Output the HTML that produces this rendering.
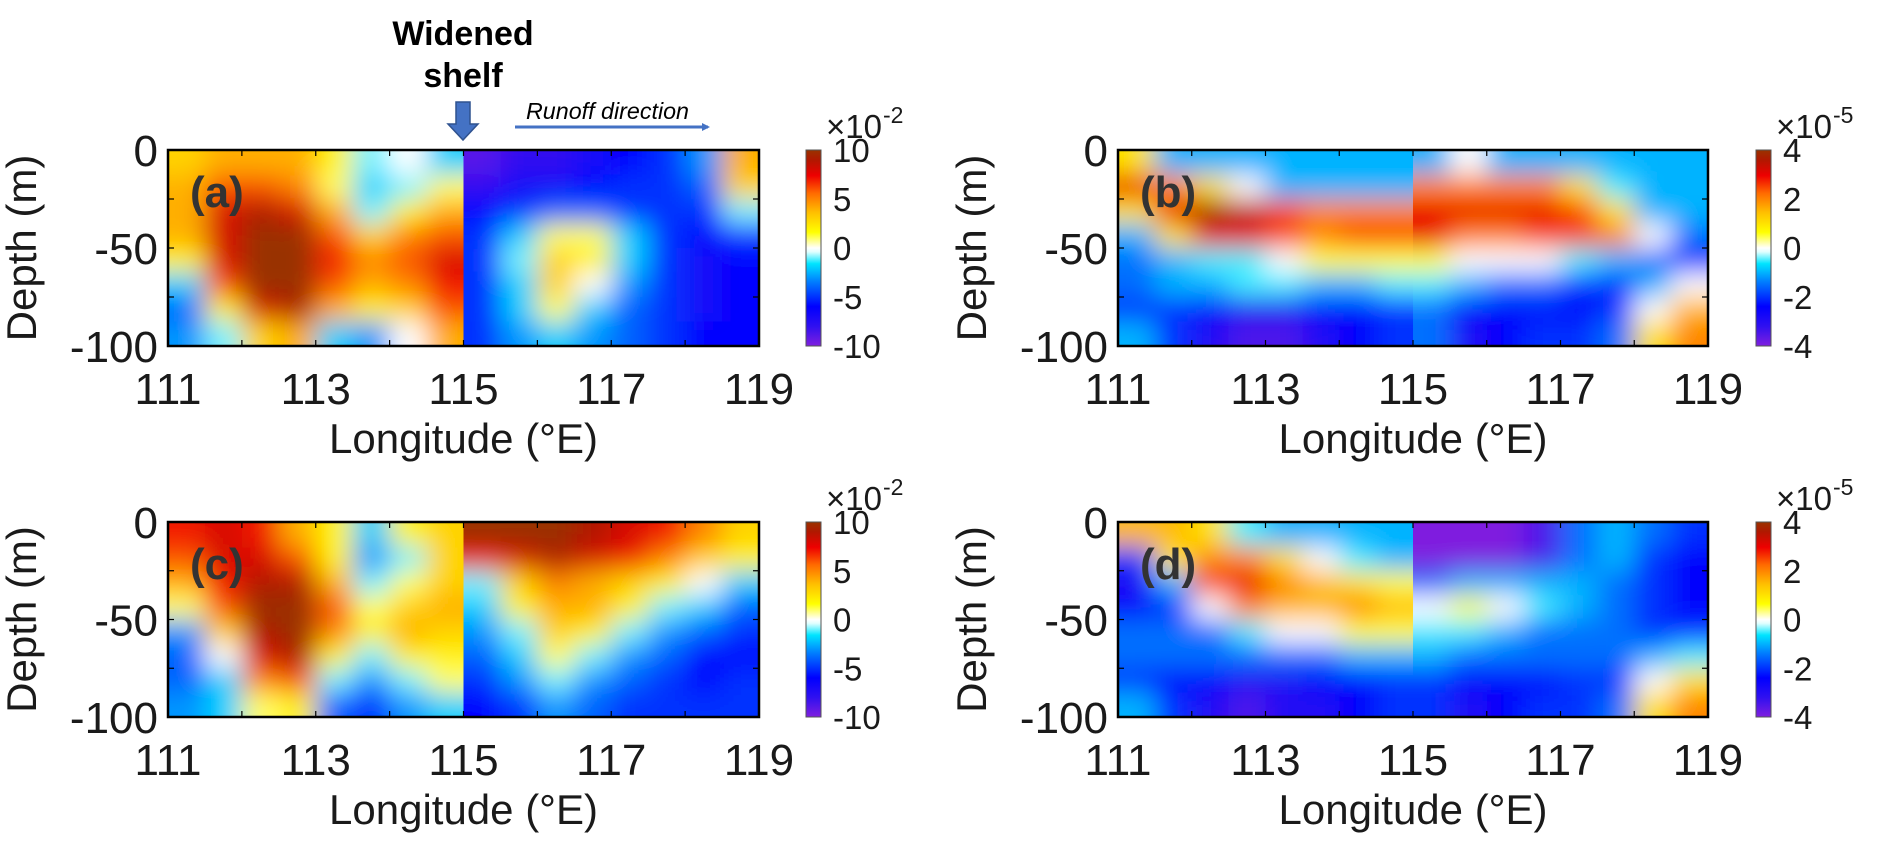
<!DOCTYPE html>
<html><head><meta charset="utf-8"><style>
body{margin:0;background:#fff;}
svg{display:block;font-family:"Liberation Sans",sans-serif;}
</style></head><body>
<svg id="fig" width="1892" height="856" viewBox="0 0 1892 856" xmlns="http://www.w3.org/2000/svg">
<defs>
<filter id="blur" filterUnits="userSpaceOnUse" x="0" y="0" width="1892" height="856"><feGaussianBlur stdDeviation="13"/></filter>
<linearGradient id="cmap" x1="0" y1="1" x2="0" y2="0">
<stop offset="0" stop-color="#7f1fdf"/><stop offset="0.1" stop-color="#3010f0"/><stop offset="0.2" stop-color="#0000ff"/><stop offset="0.33" stop-color="#0080ff"/><stop offset="0.42" stop-color="#00e5ff"/><stop offset="0.48" stop-color="#e0ffff"/><stop offset="0.5" stop-color="#ffffff"/><stop offset="0.52" stop-color="#ffffc0"/><stop offset="0.58" stop-color="#ffff00"/><stop offset="0.68" stop-color="#ffc000"/><stop offset="0.78" stop-color="#ff6a00"/><stop offset="0.87" stop-color="#ee0000"/><stop offset="0.95" stop-color="#b01800"/><stop offset="1" stop-color="#993300"/>
</linearGradient>
<marker id="ah" markerWidth="8" markerHeight="8" refX="6" refY="4" orient="auto" markerUnits="userSpaceOnUse"><path d="M0,0 L8,4 L0,8 Z" fill="#4472c4"/></marker>
</defs>
<g id="root"></g>
<g>
<text x="463" y="45" text-anchor="middle" font-weight="bold" font-size="34" fill="#000">Widened</text>
<text x="463" y="87" text-anchor="middle" font-weight="bold" font-size="34" fill="#000">shelf</text>
<path d="M456,102 L470,102 L470,124 L478,124 L463,140 L448,124 L456,124 Z" fill="#4472c4" stroke="#2f528f" stroke-width="1.5"/>
</g>
<g>
<text x="526" y="119" font-style="italic" font-size="23" textLength="163" lengthAdjust="spacingAndGlyphs" fill="#000">Runoff direction</text>
<line x1="515" y1="127" x2="708" y2="127" stroke="#4472c4" stroke-width="3" marker-end="url(#ah)"/>
</g>
</svg>
<script>
// depth rows: 0-12.5, ..., 87.5-100 ; lon columns 111..119 step 0.5
const lonEdges = [111,111.5,112,112.5,113,113.5,114,114.5,115,115.5,116,116.5,117,117.5,118,118.5,119];
const depthEdges = [0,-12.5,-25,-37.5,-50,-62.5,-75,-87.5,-100];
const xTicks = [111,113,115,117,119];
const yTicks = [0,-50,-100];
const cbTicksAC = [10,5,0,-5,-10];
const cbTicksBD = [4,2,0,-2,-4];
const valuesA = [
[3,4,4,4,2,-1,0,-2, -9,-8,-8,-7,-6,-5,-3,4],
[4,6,6,5,1,-2,-1,1, -8,-7,-7,-6,-5,-5,-4,3],
[4,8,9,8,4,-1,2,4, -6,-5,-4,-4,-5,-5,-5,-1],
[4,8,10,10,6,3,5,6, -5,-2,1,1,-2,-5,-6,-5],
[2,8,10,10,7,5,6,8, -5,-1,3,2,-2,-5,-7,-6],
[-2,6,10,10,6,4,5,7, -5,-2,3,0,-3,-5,-7,-6],
[-4,2,8,9,4,2,3,6, -5,-2,1,-2,-4,-5,-7,-6],
[-3,-1,3,4,-2,-3,0,4, -5,-3,-2,-3,-4,-5,-6,-6]];
const valuesB = [
[1,-1,-1,-1,-1,-1,-1,-1, -1,0,-1,-1,-1,-1,-1,-1],
[3,2,1,0,-1,-1,-1,-1, 2,2,2,2,1,-0.5,-1,-1],
[1,3,4,3.5,2.5,2,2,2, 3,3,3,3,2.5,1,-1,-1],
[-1,1,3,3,2.5,2,2.5,2.5, 3,2,2,2.5,2.5,2,0,-1.5],
[-1.5,-1,-0.5,-0.5,0,0.5,0.5,0.5, 0.5,0,0,0,-0.5,-1,-1.5,-2],
[-1.5,-1,-1,-0.5,-0.5,-1,-1,-0.5, -0.5,-1,-1.5,-1.5,-2,-2,-1,0],
[-2,-2,-2.5,-3,-3,-2.5,-2.5,-2, -1.5,-2.5,-2.5,-2.5,-2.5,-2,0,1.5],
[-1,-2,-3,-3.5,-3.5,-3,-2.5,-2, -1.5,-3,-2.5,-2,-2,-1.5,1,2]];
const valuesC = [
[7,8,7,4,2,-2,2,3, 10,10,10,9,8,7,5,3],
[6,8,8,6,2,-3,-1,3, 7,8,9,8,7,5,3,2],
[4,7,9,9,4,-1,1,3, -1,3,5,4,3,2,0,-2],
[1,6,10,10,6,1,3,4, -2,2,4,4,2,-1,-2,-4],
[-3,3,9,10,5,2,4,3, -3,-1,3,2,-1,-3,-4,-5],
[-4,0,8,9,2,-1,2,2, -4,-2,1,-1,-3,-4,-6,-6],
[-4,-2,5,6,-1,-3,-1,1, -5,-3,-1,-3,-4,-5,-6,-5],
[-3,-2,1,2,-4,-5,-3,-2, -6,-5,-3,-4,-5,-5,-5,-5]];
const valuesD = [
[1.5,1.5,1,-0.5,-1,-1,-1,-1, -4,-4,-4,-3.5,-1.5,-1,-1.5,-2],
[-2,1,2,2,1,0,-0.5,-1, -4,-4,-4,-3.5,-1.5,-1,-2,-2.5],
[-3,-1,2.5,3,2,1.5,1,0.5, -1.5,-1,-1,-1,-1,-1.5,-2,-2.5],
[-2.5,-2,0,2,1.5,1.5,2,1.5, 0,0.5,0,-0.5,-1,-1.5,-2,-2.5],
[-1.5,-1.5,-1.5,-0.5,0,0,0.5,0.5, -0.5,-0.5,-1,-1.5,-1.5,-1.5,-2,-2],
[-1.5,-1.5,-1.5,-1.5,-1.5,-1.5,-1,-1, -1,-1.5,-1.5,-1.5,-1.5,-1.5,-1,-0.5],
[-2,-2.5,-2.5,-3,-3,-2.5,-2.5,-2, -2,-2.5,-2.5,-2.5,-2,-2,0,1],
[-1,-2,-3,-3.5,-3,-3,-2.5,-2, -2,-3,-2.5,-2,-2,-1.5,1,2]];

const NS='http://www.w3.org/2000/svg';
const root=document.getElementById('root');
function mk(tag,attrs,parent){const e=document.createElementNS(NS,tag);for(const k in attrs)e.setAttribute(k,attrs[k]);(parent||root).appendChild(e);return e;}
const stops=[[-1,[127,31,223]],[-0.8,[48,16,240]],[-0.6,[0,0,255]],[-0.34,[0,128,255]],[-0.16,[0,229,255]],[-0.05,[224,255,255]],[0,[255,255,255]],[0.05,[255,255,192]],[0.16,[255,255,0]],[0.36,[255,192,0]],[0.56,[255,106,0]],[0.74,[238,0,0]],[0.9,[176,24,0]],[1,[153,51,0]]];
function color(t){t=Math.max(-1,Math.min(1,t));for(let i=1;i<stops.length;i++){if(t<=stops[i][0]){const a=stops[i-1],b=stops[i];const f=(t-a[0])/(b[0]-a[0]);const c=a[1].map((v,j)=>Math.round(v+(b[1][j]-v)*f));return 'rgb('+c.join(',')+')';}}return 'rgb(153,51,0)';}

const panels=[
 {id:'a',x0:168,x1:759,y0:150,y1:346,vals:valuesA,max:10,exp:'-2',cb:cbTicksAC,cbx:806},
 {id:'b',x0:1118,x1:1708,y0:150,y1:346,vals:valuesB,max:4,exp:'-5',cb:cbTicksBD,cbx:1756},
 {id:'c',x0:168,x1:759,y0:522,y1:717,vals:valuesC,max:10,exp:'-2',cb:cbTicksAC,cbx:806},
 {id:'d',x0:1118,x1:1708,y0:522,y1:717,vals:valuesD,max:4,exp:'-5',cb:cbTicksBD,cbx:1756}];

panels.forEach(p=>{
 const sx=v=>p.x0+(v-111)/8*(p.x1-p.x0);
 const sy=v=>p.y0+(0-v)/100*(p.y1-p.y0);
 const g=mk('g',{});
 
 
 const mid=sx(115);
 [[p.x0,mid,0,8],[mid,p.x1,8,16]].forEach((h,hi)=>{
  const cid='clip'+p.id+hi;
  const cp=mk('clipPath',{id:cid},g);
  mk('rect',{x:h[0],y:p.y0,width:h[1]-h[0],height:p.y1-p.y0},cp);
  const outer=mk('g',{'clip-path':'url(#'+cid+')'},g);
  const inner=mk('g',{filter:'url(#blur)'},outer);
  for(let r=0;r<depthEdges.length-1;r++){
   for(let c=h[2];c<h[3];c++){
    let xa=sx(lonEdges[c]),xb=sx(lonEdges[c+1]),ya=sy(depthEdges[r]),yb=sy(depthEdges[r+1]);
    if(c===h[2])xa-=40; if(c===h[3]-1)xb+=40; if(r===0)ya-=40; if(r===depthEdges.length-2)yb+=40;
    const cell=mk('rect',{x:xa,y:ya,width:xb-xa+0.5,height:yb-ya+0.5,fill:color(p.vals[r][c]/p.max)},inner);
    
    
   }
  }
 });
 const fr=mk('rect',{x:p.x0,y:p.y0,width:p.x1-p.x0,height:p.y1-p.y0,fill:'none',stroke:'#000','stroke-width':2.5},g);
 
 
 for(let v=111;v<=119;v++){const x=sx(v);mk('line',{x1:x,y1:p.y1,x2:x,y2:p.y1-6,stroke:'#000','stroke-width':1.2},g);mk('line',{x1:x,y1:p.y0,x2:x,y2:p.y0+6,stroke:'#000','stroke-width':1.2},g);}
 for(let v=0;v>=-100;v-=25){const y=sy(v);mk('line',{x1:p.x0,y1:y,x2:p.x0+6,y2:y,stroke:'#000','stroke-width':1.2},g);mk('line',{x1:p.x1,y1:y,x2:p.x1-6,y2:y,stroke:'#000','stroke-width':1.2},g);}
 xTicks.forEach(v=>{const t=mk('text',{x:sx(v),y:p.y1+58,'text-anchor':'middle','font-size':44,fill:'#1a1a1a'},g);t.textContent=v;
  
  });
 yTicks.forEach(v=>{const t=mk('text',{x:p.x0-10,y:sy(v)+16,'text-anchor':'end','font-size':44,fill:'#1a1a1a'},g);t.textContent=v;
  
  });
 const xt=mk('text',{x:(p.x0+p.x1)/2,y:p.y1+107,'text-anchor':'middle','font-size':42,fill:'#1a1a1a'},g);xt.textContent='Longitude (°E)';
 
 
 const ycx=p.x0-132, ycy=(p.y0+p.y1)/2;
 const yt=mk('text',{x:ycx,y:ycy,'text-anchor':'middle','font-size':42,fill:'#1a1a1a',transform:'rotate(-90 '+ycx+' '+ycy+')'},g);yt.textContent='Depth (m)';
 
 
 const pl=mk('text',{x:p.x0+22,y:p.y0+57,'font-size':44,'font-weight':'bold',fill:'#333'},g);pl.textContent='('+p.id+')';
 
 
 const cg=mk('g',{},g);
 
 
 mk('rect',{x:p.cbx,y:p.y0,width:15,height:p.y1-p.y0,fill:'url(#cmap)',stroke:'#555','stroke-width':1},cg);
 p.cb.forEach(v=>{const y=p.y0+(p.max-v)/(2*p.max)*(p.y1-p.y0);const t=mk('text',{x:p.cbx+27,y:y+12,'font-size':33,fill:'#1a1a1a'},cg);t.textContent=v;
  
  });
 const ex=mk('text',{x:p.cbx+20,y:p.y0-12,'font-size':33,fill:'#1a1a1a'},cg);ex.textContent='×10';
 
 
 const sup=mk('text',{x:p.cbx+77,y:p.y0-27,'font-size':23,fill:'#1a1a1a'},cg);sup.textContent=p.exp;
 
 
});
</script>
</body></html>
